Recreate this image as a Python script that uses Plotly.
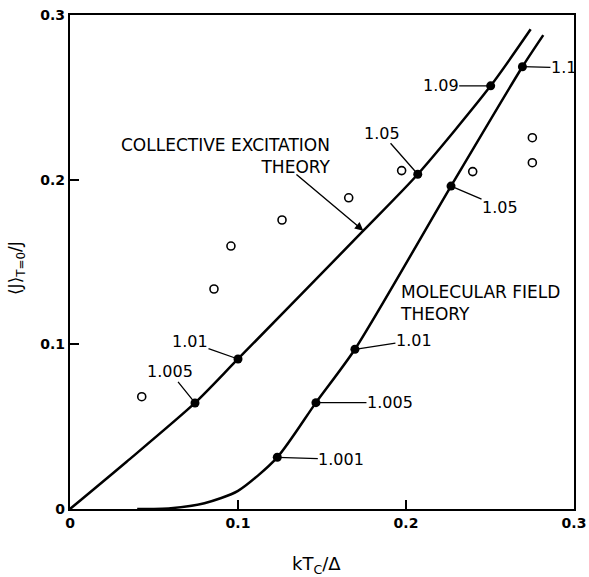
import plotly.graph_objects as go

# Collective excitation theory curve (traced points)
ce_x = [0.0, 0.0337, 0.0744, 0.100, 0.1746, 0.207, 0.2504, 0.2742]
ce_y = [0.0, 0.0287, 0.0644, 0.0911, 0.169, 0.2033, 0.257, 0.2913]

# Molecular field theory curve (traced points)
mf_x = [0.04, 0.06, 0.08, 0.100, 0.1234, 0.1464, 0.1696, 0.2268, 0.2693, 0.2817]
mf_y = [0.0, 0.0005, 0.0035, 0.011, 0.0314, 0.0646, 0.097, 0.1961, 0.2686, 0.2878]

# Labelled points on the collective excitation curve
ce_pt_x = [0.0744, 0.100, 0.207, 0.2504]
ce_pt_y = [0.0644, 0.0911, 0.2033, 0.257]
ce_pt_lab = ["1.005", "1.01", "1.05", "1.09"]

# Labelled points on the molecular field curve
mf_pt_x = [0.1234, 0.1464, 0.1696, 0.2268, 0.2693]
mf_pt_y = [0.0314, 0.0646, 0.097, 0.1961, 0.2686]
mf_pt_lab = ["1.001", "1.005", "1.01", "1.05", "1.1"]

# Experimental points (open circles)
exp_x = [0.0427, 0.0857, 0.0958, 0.1262, 0.1659, 0.1974, 0.2397, 0.2752, 0.2752]
exp_y = [0.0682, 0.1336, 0.1597, 0.1755, 0.189, 0.2055, 0.2049, 0.2255, 0.2103]

tick_vals = [0, 0.1, 0.2, 0.3]
tick_text = ["0", "0.1", "0.2", "0.3"]

FONT = "DejaVu Sans"

fig = go.Figure()
fig.add_trace(go.Scatter(x=ce_x, y=ce_y, mode="lines", line=dict(color="black", width=2.5, shape="spline", smoothing=0.7), showlegend=False))
fig.add_trace(go.Scatter(x=mf_x, y=mf_y, mode="lines", line=dict(color="black", width=2.5, shape="spline", smoothing=0.7), showlegend=False))
fig.add_trace(go.Scatter(x=ce_pt_x + mf_pt_x, y=ce_pt_y + mf_pt_y, mode="markers",
                         marker=dict(color="black", size=9), showlegend=False))
fig.add_trace(go.Scatter(x=exp_x, y=exp_y, mode="markers",
                         marker=dict(symbol="circle-open", color="black", size=8, line=dict(width=1.6)), showlegend=False))

ce_off = [(-25, -31), (-48, -17), (-36, -41), (-50, 0)]
mf_off = [(64, 2), (74, 0), (59, -9), (49, 21), (41, 1)]
for xs, ys, labs, offs in [(ce_pt_x, ce_pt_y, ce_pt_lab, ce_off), (mf_pt_x, mf_pt_y, mf_pt_lab, mf_off)]:
    for x, y, t, (ax, ay) in zip(xs, ys, labs, offs):
        fig.add_annotation(x=x, y=y, text=t, showarrow=True, arrowhead=0, arrowwidth=1.3,
                           arrowcolor="black", ax=ax, ay=ay, standoff=0, borderpad=0,
                           font=dict(family=FONT, size=16, color="black"))

fig.add_annotation(x=0.156, y=0.2142, xref="x", yref="y", text="COLLECTIVE EXCITATION<br>THEORY",
                   showarrow=False, xanchor="right", align="right",
                   font=dict(family=FONT, size=17, color="black"))
fig.add_annotation(x=0.1746, y=0.169, ax=0.1339, ay=0.2039, axref="x", ayref="y", text="",
                   showarrow=True, arrowhead=2, arrowsize=1.2, arrowwidth=1.4, arrowcolor="black", standoff=0)
fig.add_annotation(x=0.1952, y=0.1252, xref="x", yref="y", text="MOLECULAR FIELD<br>THEORY",
                   showarrow=False, xanchor="left", align="left",
                   font=dict(family=FONT, size=17, color="black"))

fig.add_annotation(xref="paper", yref="paper", x=-0.105, y=0.488, xanchor="center", yanchor="middle",
                   text="⟨J⟩<sub>T=0</sub>/J",
                   textangle=-90, showarrow=False, font=dict(family=FONT, size=17, color="black"))
fig.add_annotation(xref="paper", yref="paper", x=0.49, y=-0.113, xanchor="center", yanchor="middle",
                   text="kT<sub>C</sub>/Δ",
                   showarrow=False, font=dict(family=FONT, size=18, color="black"))

axis_common = dict(range=[0, 0.3], tickvals=tick_vals, ticktext=tick_text, ticks="inside", ticklen=9,
                   tickwidth=1.8, tickcolor="black", showline=True, linecolor="black", linewidth=2.2,
                   mirror=True, showgrid=False, zeroline=False, automargin=False,
                   tickfont=dict(family=FONT, size=14, color="black", weight="bold"))
fig.update_xaxes(**axis_common)
fig.update_yaxes(**axis_common)
fig.update_layout(width=589, height=577, margin=dict(l=70, r=15, t=15, b=68),
                  plot_bgcolor="white", paper_bgcolor="white")
fig.write_html("out.html", config={"displayModeBar": False},
               post_script="document.body.style.margin='0';document.body.style.padding='0';")
